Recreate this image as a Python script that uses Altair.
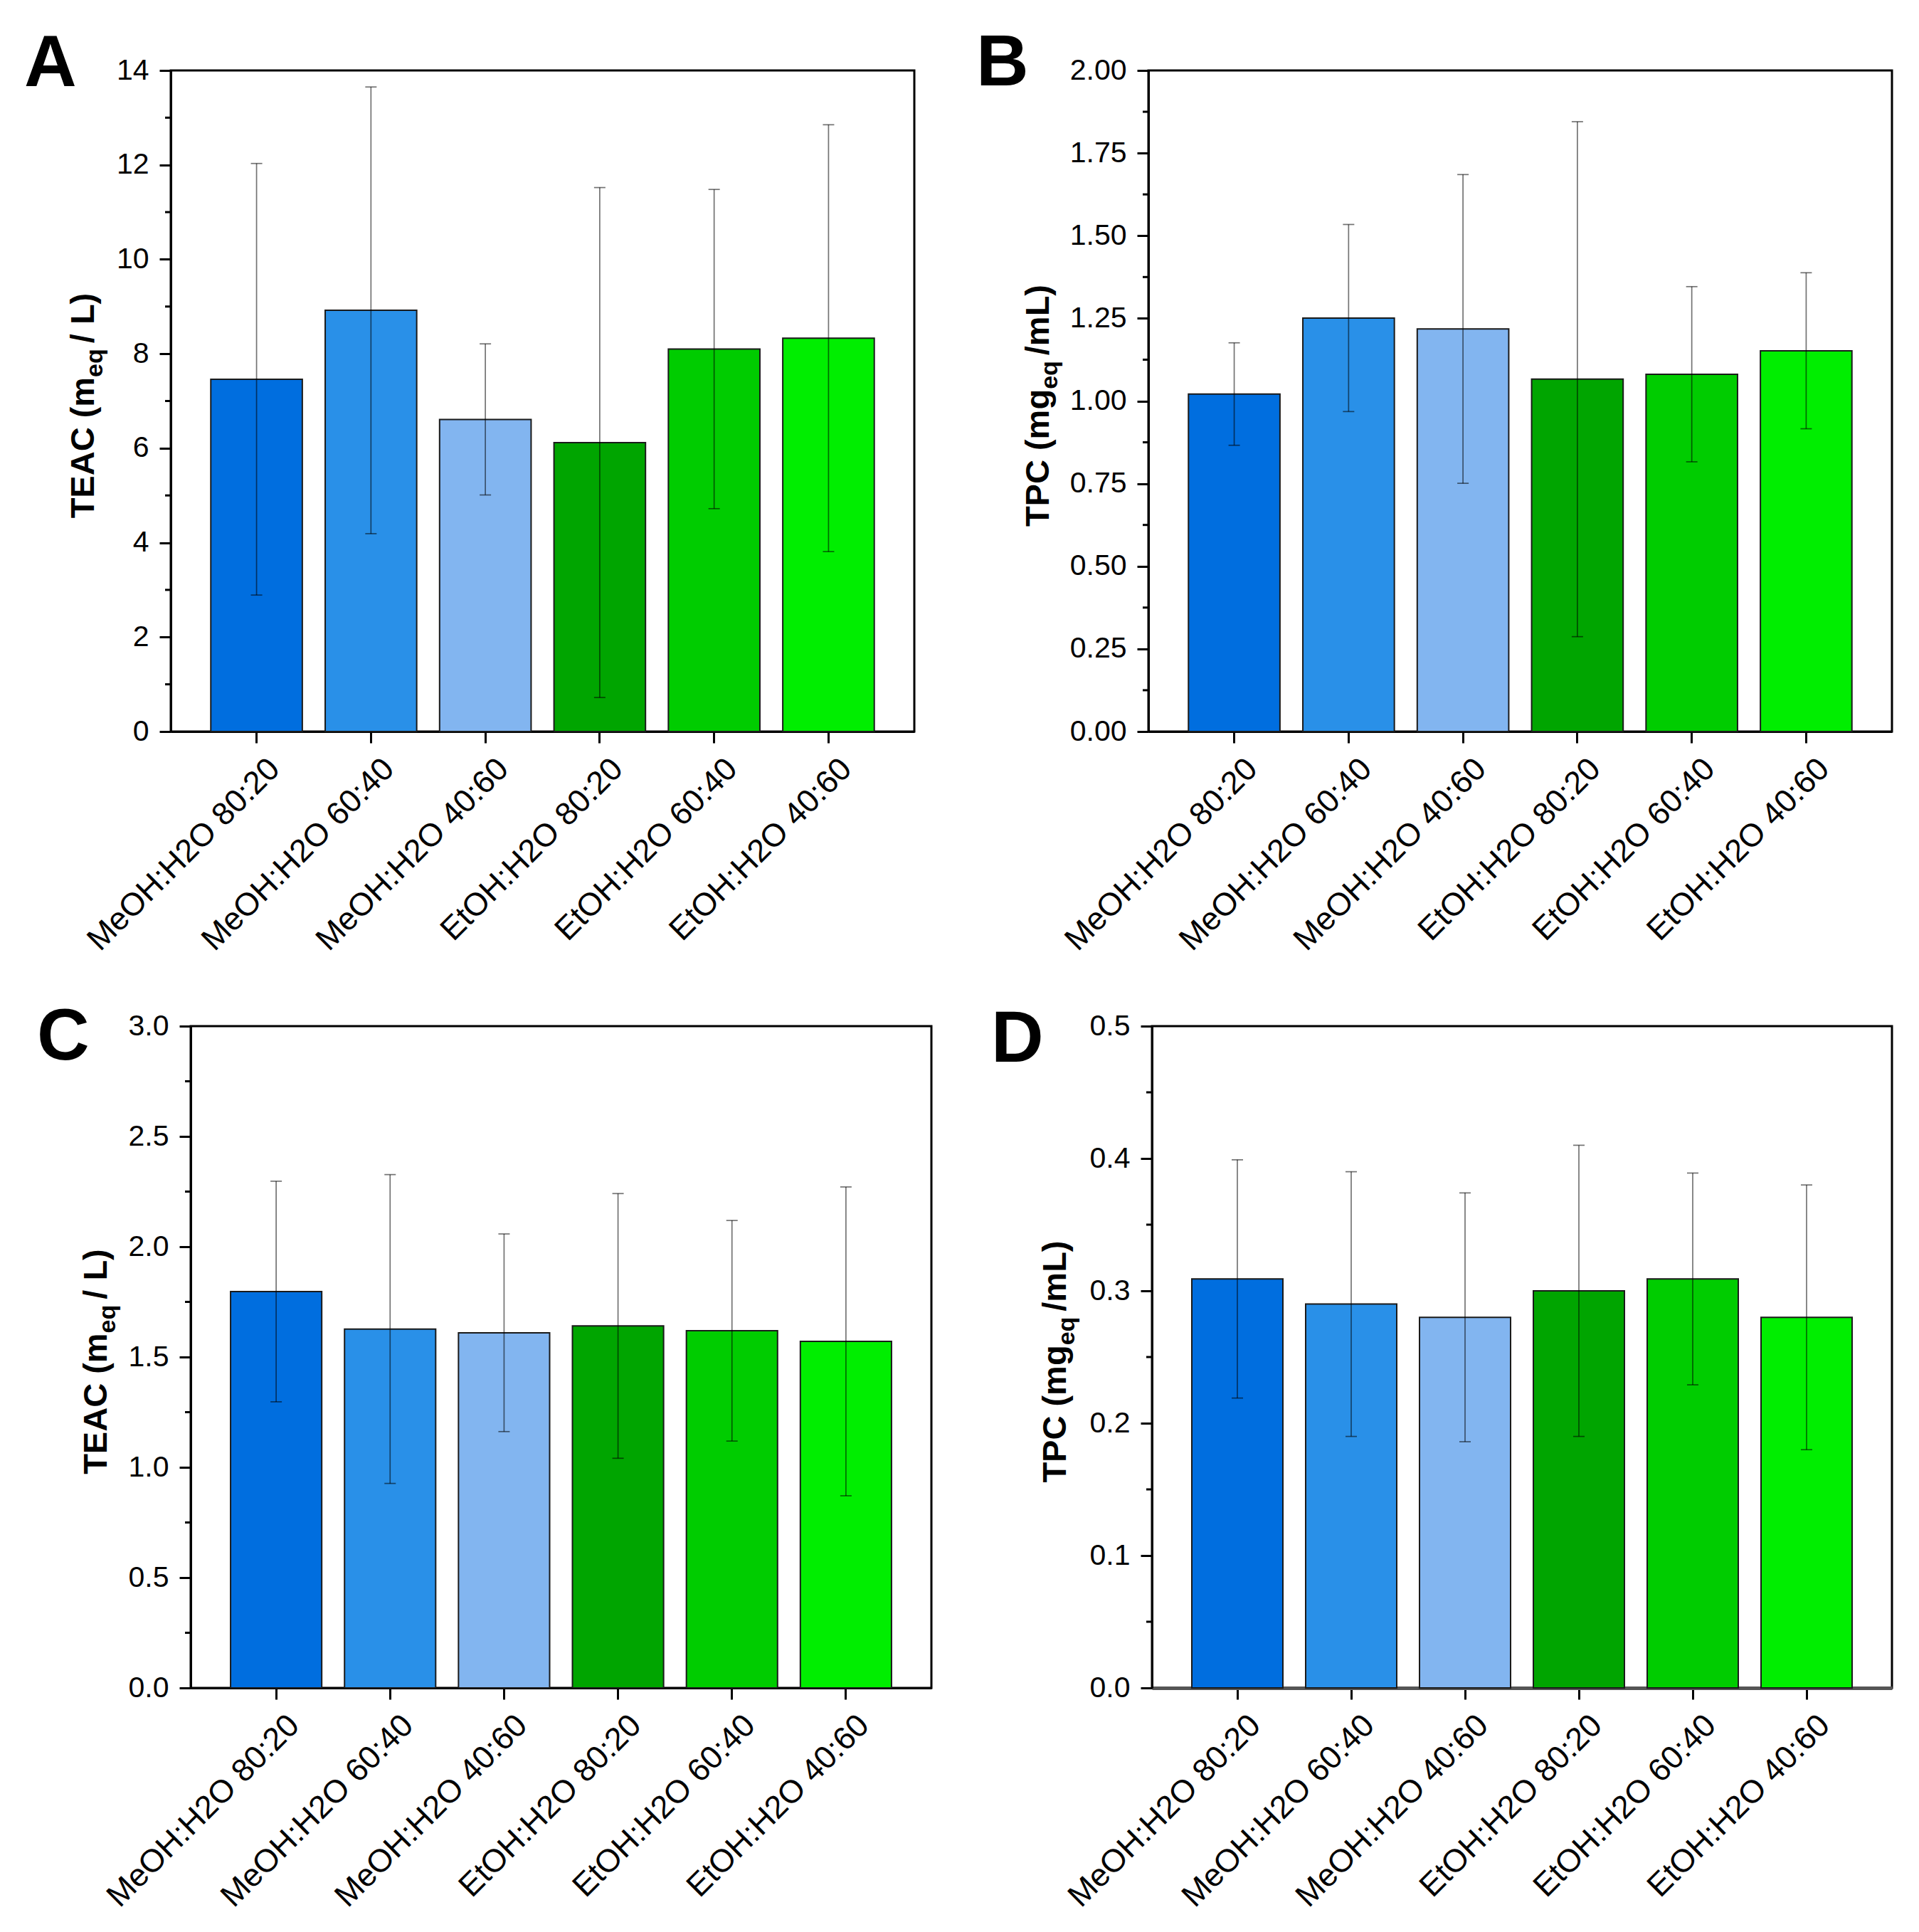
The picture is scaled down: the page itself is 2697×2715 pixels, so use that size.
import pandas as pd
import altair as alt

# categories and colours (same for all four panels)
cats = ["MeOH:H2O 80:20", "MeOH:H2O 60:40", "MeOH:H2O 40:60",
        "EtOH:H2O 80:20", "EtOH:H2O 60:40", "EtOH:H2O 40:60"]
colors = ["#006EDF", "#2990E8", "#82B5F0", "#00A500", "#00CC00", "#00EE00"]

# panel A - TEAC
teac_a = [7.46, 8.92, 6.61, 6.12, 8.10, 8.33]
teac_a_sd = [4.57, 4.73, 1.60, 5.40, 3.38, 4.52]
# panel B - TPC
tpc_b = [1.021, 1.251, 1.218, 1.066, 1.081, 1.152]
tpc_b_sd = [0.155, 0.283, 0.467, 0.779, 0.265, 0.236]
# panel C - TEAC
teac_c = [1.797, 1.627, 1.610, 1.641, 1.619, 1.571]
teac_c_sd = [0.50, 0.70, 0.448, 0.60, 0.50, 0.70]
# panel D - TPC
tpc_d = [0.309, 0.290, 0.280, 0.300, 0.309, 0.280]
tpc_d_sd = [0.090, 0.100, 0.094, 0.110, 0.080, 0.100]

# y tick values
ticks_a = [0, 2, 4, 6, 8, 10, 12, 14]
minor_a = [1, 3, 5, 7, 9, 11, 13]
ticks_b = [0, 0.25, 0.5, 0.75, 1.0, 1.25, 1.5, 1.75, 2.0]
minor_b = [0.125, 0.375, 0.625, 0.875, 1.125, 1.375, 1.625, 1.875]
ticks_c = [0, 0.5, 1.0, 1.5, 2.0, 2.5, 3.0]
minor_c = [0.25, 0.75, 1.25, 1.75, 2.25, 2.75]
ticks_d = [0, 0.1, 0.2, 0.3, 0.4, 0.5]
minor_d = [0.05, 0.15, 0.25, 0.35, 0.45]

FONT = "Liberation Sans"
NBSP = "\u00a0"
# Arial bold advance widths (per 1000 em) to chain the title pieces
ARIAL_BOLD = {" ": 278, NBSP: 278, "(": 333, ")": 333, "/": 278, "A": 722,
              "C": 722, "E": 667, "L": 611, "P": 667, "T": 611, "e": 556,
              "g": 611, "m": 889, "q": 611}


def text_w(s, size):
    return sum(ARIAL_BOLD[c] for c in s) / 1000 * size


def one_text(txt, x, y, size, angle=0):
    return alt.Chart(alt.Data(values=[{}])).mark_text(
        text=txt, font=FONT, fontWeight="bold", fontSize=size, angle=angle,
        align="left", baseline="alphabetic", color="black"
    ).encode(x=alt.value(x), y=alt.value(y))


def panel(means, sds, ymax, major, minor, fmt, letter, lx, ly,
          parts, tx, width, height, dom_color="black", dom_width=3):
    df = pd.DataFrame({"cat": cats, "mean": means,
                       "lo": [m - s for m, s in zip(means, sds)],
                       "hi": [m + s for m, s in zip(means, sds)]})
    xs = alt.Scale(domain=cats, paddingInner=0.2, paddingOuter=0.35)
    ys = alt.Scale(domain=[0, ymax], nice=False, zero=True)
    # the same axis objects go on every layer so that they merge cleanly
    xax = alt.Axis(
        title=None, labelAngle=315, labelAlign="right", labelBaseline="middle",
        labelFontSize=45, labelPadding=29, labelOffset=25, labelLimit=1000,
        tickSize=16, tickWidth=3, domainWidth=dom_width, domainColor=dom_color)
    yax = alt.Axis(
        title=None, values=major, format=fmt, labelFontSize=41, labelPadding=15,
        tickSize=16, tickWidth=3, domainWidth=3, grid=False)

    bars = alt.Chart(df).mark_bar(stroke="#1a1a1a", strokeWidth=2).encode(
        x=alt.X("cat:N", sort=cats, scale=xs, axis=xax),
        y=alt.Y("mean:Q", scale=ys, axis=yax),
        color=alt.Color("cat:N", scale=alt.Scale(domain=cats, range=colors), legend=None),
    )
    err = alt.Chart(df).mark_rule(color="black", opacity=0.55, strokeWidth=1.7).encode(
        x=alt.X("cat:N", sort=cats, scale=xs, axis=xax),
        y=alt.Y("lo:Q", scale=ys, axis=yax), y2="hi:Q")
    caps = alt.Chart(df).transform_fold(["lo", "hi"], as_=["end", "v"]).mark_tick(
        color="black", opacity=0.55, thickness=1.7, size=16).encode(
        x=alt.X("cat:N", sort=cats, scale=xs, axis=xax),
        y=alt.Y("v:Q", scale=ys, axis=yax))
    minors = alt.Chart(pd.DataFrame({"v": minor})).mark_rule(
        color="black", strokeWidth=3).encode(
        y=alt.Y("v:Q", scale=ys, axis=yax), x=alt.value(-8), x2=alt.value(0))

    # y title: main text, subscript, main text, read bottom to top
    big, small, gap = 47, 34, 8
    w1 = text_w(parts[0], big)
    w2 = text_w(parts[1], small) + gap
    w3 = text_w(parts[2], big)
    y0 = height / 2 + (w1 + w2 + w3) / 2
    title = [one_text(parts[0], tx, y0, big, 270),
             one_text(parts[1], tx + 12, y0 - w1, small, 270),
             one_text(parts[2], tx, y0 - w1 - w2, big, 270)]
    lab = one_text(letter, lx, ly, 102)

    return alt.layer(bars, err, caps, minors, *title, lab).properties(
        width=width, height=height)


pa = panel(teac_a, teac_a_sd, 14, ticks_a, minor_a, "d", "A", -206, 22,
           ["TEAC (m", "eq", NBSP + "/ L)"], -108, 1045, 929)
pb = panel(tpc_b, tpc_b_sd, 2, ticks_b, minor_b, ".2f", "B", -242, 21,
           ["TPC (mg", "eq", NBSP + "/mL)"], -140, 1045, 929)
pc = panel(teac_c, teac_c_sd, 3, ticks_c, minor_c, ".1f", "C", -216, 47,
           ["TEAC (m", "eq", NBSP + "/ L)"], -118, 1041, 930)
pd_ = panel(tpc_d, tpc_d_sd, 0.5, ticks_d, minor_d, ".1f", "D", -226, 50,
            ["TPC (mg", "eq", NBSP + "/mL)"], -121, 1040, 930,
            dom_color="#555555", dom_width=5)

# empty strip that pushes the lower row a little to the right
spacer = alt.Chart(alt.Data(values=[{}])).mark_point(opacity=0).encode(
    x=alt.value(0), y=alt.value(0)
).properties(width=28, height=1, view=alt.ViewBackground(stroke="transparent"))

row1 = alt.hconcat(pa, pb, spacing=329, bounds="flush")
row2 = alt.hconcat(
    spacer, alt.hconcat(pc, pd_, spacing=310, bounds="flush"),
    spacing=0, bounds="flush")

chart = alt.vconcat(row1, row2, spacing=59).properties(
    padding={"left": 24, "top": 28, "right": 10, "bottom": 10}
).configure_view(
    stroke="black", strokeWidth=3
).configure_axis(
    labelFont=FONT, labelColor="black", domainColor="black", tickColor="black"
)

chart.save("out.html", embed_options={"renderer": "svg", "actions": False})
